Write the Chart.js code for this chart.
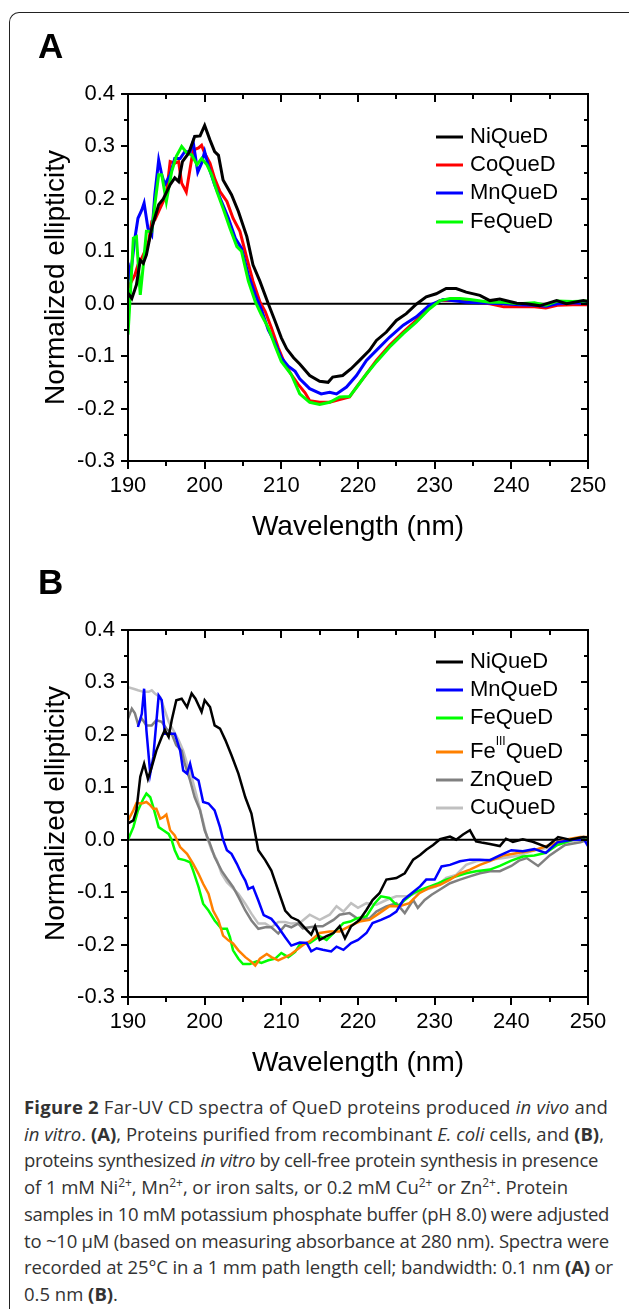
<!DOCTYPE html>
<html>
<head>
<meta charset="utf-8">
<script src="https://cdn.jsdelivr.net/npm/chart.js@4.4.1/dist/chart.umd.min.js"></script>
<style>
  body { margin: 0; background: #fff; width: 629px; height: 1309px; overflow: hidden; position: relative; }
  #frame { position: absolute; left: 9px; top: 12px; width: 700px; height: 1300px;
           border-top: 1.5px solid #222; border-left: 1.5px solid #222; border-top-left-radius: 10px; }
  canvas { position: absolute; left: 0; }
  #chartA { top: 0; }
  #chartB { top: 536px; }
  #caption { position: absolute; left: 24px; top: 1094px; font-family: "Open Sans", sans-serif;
             font-size: 18.5px; line-height: 26.7px; color: #333; white-space: nowrap; }
  #caption sup { font-size: 12px; line-height: 0; }
</style>
</head>
<body>
<div id="frame"></div>
<canvas id="chartA" width="629" height="550"></canvas>
<canvas id="chartB" width="629" height="550"></canvas>
<div id="caption">
<span class="ln"><b>Figure 2</b> Far-UV CD spectra of QueD proteins produced <i>in vivo</i> and</span><br>
<span class="ln"><i>in vitro</i>. <b>(A)</b>, Proteins purified from recombinant <i>E. coli</i> cells, and <b>(B)</b>,</span><br>
<span class="ln">proteins synthesized <i>in vitro</i> by cell-free protein synthesis in presence</span><br>
<span class="ln">of 1 mM Ni<sup>2+</sup>, Mn<sup>2+</sup>, or iron salts, or 0.2 mM Cu<sup>2+</sup> or Zn<sup>2+</sup>. Protein</span><br>
<span class="ln">samples in 10 mM potassium phosphate buffer (pH 8.0) were adjusted</span><br>
<span class="ln">to ~10 μM (based on measuring absorbance at 280 nm). Spectra were</span><br>
<span class="ln">recorded at 25°C in a 1 mm path length cell; bandwidth: 0.1 nm <b>(A)</b> or</span><br>
<span class="ln">0.5 nm <b>(B)</b>.</span>
</div>
<script>
// ---- Panel A: proteins purified from E. coli ----
const niA_x = [190, 190.5, 191.1, 191.6, 192, 192.4, 193.1, 194, 194.6, 195.5, 196.1, 196.6, 197.1, 197.9, 198.7, 199.4, 200, 200.7, 201.3, 201.8, 202.4, 203.5, 204.4, 205.5, 206.3, 207.2, 208.3, 209.2, 210, 210.7, 211.6, 212.4, 213.7, 215, 216.1, 216.7, 218, 219.1, 220.2, 221.5, 222.4, 223.7, 225, 226.3, 227.6, 228.9, 230.2, 231.5, 232.8, 234.1, 235.9, 237.2, 238.5, 240.7, 242, 243.7, 245.9, 247.2, 249.4, 250];
const niA_y = [0.02, 0.01, 0.036, 0.083, 0.077, 0.093, 0.144, 0.189, 0.2, 0.227, 0.24, 0.233, 0.271, 0.287, 0.319, 0.32, 0.34, 0.312, 0.29, 0.283, 0.236, 0.208, 0.176, 0.128, 0.074, 0.043, 0.0, -0.034, -0.065, -0.086, -0.103, -0.115, -0.137, -0.148, -0.15, -0.14, -0.137, -0.124, -0.108, -0.089, -0.07, -0.054, -0.032, -0.019, -0.001, 0.013, 0.019, 0.029, 0.029, 0.022, 0.016, 0.006, 0.009, 0.001, 0.0, -0.004, 0.006, 0.0, 0.006, 0.004];

const coA_x = [190, 190.9, 191.3, 191.8, 192.2, 192.7, 193.1, 193.5, 194, 194.6, 195, 195.5, 196.1, 196.6, 197, 197.6, 198.1, 198.5, 199.2, 199.6, 200, 200.7, 201.3, 202, 202.9, 203.7, 204.6, 205.5, 206.3, 207.2, 207.9, 208.7, 209.6, 210.5, 211.3, 212.2, 213.1, 213.7, 215, 216.3, 217.6, 218.9, 219.8, 221.1, 222.4, 224.1, 225.9, 227.6, 229.3, 230.7, 232, 233.3, 235.4, 237.2, 239, 241, 243, 244.5, 246, 248, 250];
const coA_y = [0.03, 0.055, 0.074, 0.087, 0.1, 0.119, 0.157, 0.16, 0.176, 0.195, 0.208, 0.271, 0.268, 0.271, 0.23, 0.213, 0.258, 0.293, 0.297, 0.302, 0.287, 0.268, 0.239, 0.214, 0.195, 0.163, 0.138, 0.087, 0.043, 0.004, -0.015, -0.046, -0.084, -0.116, -0.135, -0.154, -0.17, -0.185, -0.188, -0.188, -0.183, -0.178, -0.159, -0.134, -0.108, -0.08, -0.054, -0.032, -0.006, 0.006, 0.006, 0.006, 0.003, 0.0, -0.006, -0.006, -0.006, -0.008, -0.003, -0.002, -0.002];

const mnA_x = [190, 190.3, 190.9, 191.3, 191.8, 192.1, 192.6, 193.1, 193.5, 194, 194.4, 194.8, 195.5, 196.1, 196.8, 197.4, 198.1, 198.5, 199.1, 199.6, 200, 200.5, 201.3, 202.2, 203.1, 204, 204.8, 205.7, 206.6, 207.4, 208.3, 209.2, 210, 210.9, 211.8, 212.4, 213.7, 215.2, 216.3, 217.2, 218.5, 219.8, 221.1, 222.4, 224.1, 225.9, 227.6, 229.3, 231.1, 232.8, 234.1, 237.2, 239, 241, 243, 244.5, 246, 248, 250];
const mnA_y = [0.078, 0.05, 0.125, 0.163, 0.179, 0.192, 0.144, 0.131, 0.208, 0.274, 0.246, 0.227, 0.246, 0.277, 0.277, 0.29, 0.29, 0.309, 0.251, 0.268, 0.29, 0.262, 0.227, 0.195, 0.163, 0.125, 0.106, 0.055, 0.017, -0.011, -0.05, -0.075, -0.103, -0.119, -0.129, -0.143, -0.162, -0.172, -0.169, -0.172, -0.159, -0.137, -0.108, -0.089, -0.064, -0.041, -0.025, -0.003, 0.008, 0.005, 0.003, 0.001, 0.0, -0.002, -0.003, -0.005, 0.0, 0.002, 0.0];

const feA_x = [190, 190.3, 190.7, 191.1, 191.6, 192, 192.4, 193.1, 193.5, 194, 194.4, 195, 195.7, 196.3, 197, 197.7, 198.3, 199, 199.6, 200.3, 200.9, 201.6, 202.4, 203.3, 204.2, 204.8, 205.7, 206.6, 207.4, 208.3, 209.2, 210, 211.3, 212.4, 213.7, 215, 216.3, 217.6, 218.9, 220, 221.1, 222.4, 224.1, 225.9, 227.6, 229.3, 230.7, 232, 233.3, 234.6, 237.2, 239, 241, 243, 244.5, 246, 248, 250];
const feA_y = [-0.059, 0.017, 0.125, 0.128, 0.017, 0.074, 0.138, 0.138, 0.189, 0.246, 0.246, 0.195, 0.252, 0.281, 0.3, 0.287, 0.284, 0.265, 0.277, 0.265, 0.246, 0.214, 0.182, 0.144, 0.109, 0.1, 0.043, 0.004, -0.021, -0.046, -0.081, -0.11, -0.135, -0.172, -0.188, -0.192, -0.188, -0.178, -0.177, -0.156, -0.134, -0.111, -0.083, -0.057, -0.035, -0.01, 0.006, 0.01, 0.01, 0.008, 0.003, 0.003, 0.0, 0.002, -0.003, 0.005, 0.004, 0.005];

// ---- Panel B: proteins synthesized in vitro ----
const niB_x = [190, 190.7, 191.1, 191.6, 192.1, 192.6, 193.1, 193.7, 194.4, 194.8, 195.3, 195.7, 196.3, 197, 197.7, 198.3, 198.8, 199.6, 200, 200.7, 201.3, 202, 202.7, 203.5, 204.4, 205.3, 206.1, 206.6, 207, 207.9, 208.7, 209.6, 210.5, 211.3, 212.2, 213.3, 213.9, 214.4, 215, 215.9, 216.8, 217.6, 218.3, 219.1, 220.2, 221.1, 221.9, 222.8, 223.7, 225, 226.1, 227.2, 228.1, 228.9, 229.8, 230.7, 232, 232.8, 233.7, 234.6, 235.4, 236.3, 237.2, 238.5, 239.3, 240.2, 241.5, 242.8, 244.6, 246.1, 247.6, 249.4, 250];
const niB_y = [0.031, 0.037, 0.056, 0.12, 0.145, 0.116, 0.139, 0.17, 0.196, 0.209, 0.196, 0.228, 0.266, 0.269, 0.253, 0.279, 0.269, 0.244, 0.266, 0.253, 0.218, 0.212, 0.19, 0.161, 0.126, 0.081, 0.05, 0.011, -0.02, -0.039, -0.059, -0.097, -0.135, -0.148, -0.154, -0.172, -0.181, -0.165, -0.191, -0.184, -0.178, -0.165, -0.188, -0.165, -0.153, -0.134, -0.115, -0.102, -0.076, -0.073, -0.064, -0.038, -0.029, -0.019, -0.01, 0.001, 0.006, 0.0, 0.01, 0.018, -0.003, -0.006, -0.008, -0.012, 0.002, -0.004, 0.001, -0.004, -0.014, 0.005, 0.0, 0.005, 0.004];

const mnB_x = [191.3, 191.8, 192.1, 192.4, 192.9, 193.3, 194, 194.4, 194.8, 195.5, 196.1, 196.8, 197.2, 197.7, 198.1, 198.5, 199.2, 199.8, 200.5, 201.3, 202, 202.4, 202.9, 203.5, 204.2, 204.8, 205.3, 205.7, 206.3, 207, 207.7, 208.7, 209.6, 210.5, 211.3, 212.4, 213.3, 213.9, 214.6, 215.4, 216.5, 217.2, 218.1, 219.1, 220, 221.1, 221.9, 223, 224.1, 225, 225.9, 227, 228.1, 228.9, 230, 230.9, 232, 233.3, 234.6, 235.9, 237.2, 238.5, 240, 241.5, 243, 244.5, 246, 248, 249.5, 250];
const mnB_y = [0.215, 0.24, 0.288, 0.209, 0.126, 0.158, 0.275, 0.266, 0.202, 0.202, 0.202, 0.17, 0.132, 0.126, 0.145, 0.12, 0.113, 0.072, 0.069, 0.056, 0.024, 0.0, -0.02, -0.027, -0.046, -0.065, -0.078, -0.094, -0.09, -0.116, -0.144, -0.151, -0.167, -0.186, -0.202, -0.196, -0.197, -0.213, -0.207, -0.21, -0.213, -0.204, -0.21, -0.197, -0.191, -0.178, -0.159, -0.153, -0.146, -0.137, -0.115, -0.102, -0.089, -0.076, -0.076, -0.051, -0.048, -0.041, -0.038, -0.038, -0.039, -0.03, -0.02, -0.022, -0.018, -0.025, -0.005, 0.0, 0.0, -0.012];

const feB_x = [190, 190.7, 191.3, 192, 192.4, 192.9, 193.3, 194, 194.6, 195.3, 195.7, 196.1, 196.6, 197.4, 198.1, 198.5, 199.2, 199.8, 200.5, 201.3, 202.2, 202.9, 203.3, 203.7, 204.4, 205, 205.9, 206.8, 207.4, 208.3, 209.2, 210, 210.9, 211.8, 212.4, 213.7, 215, 215.9, 216.8, 218.1, 219, 219.8, 221.1, 222.2, 223, 224.1, 225.2, 226.1, 227.2, 228.3, 229.4, 230.5, 231.5, 232.8, 234.1, 235.4, 237.2, 238.5, 240, 241.5, 243, 244.5, 246, 248, 250];
const feB_y = [0.0, 0.024, 0.056, 0.078, 0.088, 0.081, 0.062, 0.024, 0.018, 0.011, -0.001, -0.02, -0.036, -0.039, -0.043, -0.059, -0.09, -0.122, -0.135, -0.154, -0.17, -0.17, -0.186, -0.211, -0.227, -0.237, -0.237, -0.232, -0.235, -0.23, -0.227, -0.216, -0.224, -0.214, -0.2, -0.197, -0.184, -0.191, -0.178, -0.159, -0.156, -0.15, -0.146, -0.121, -0.108, -0.111, -0.127, -0.115, -0.102, -0.095, -0.089, -0.083, -0.076, -0.07, -0.064, -0.06, -0.057, -0.05, -0.04, -0.032, -0.03, -0.025, -0.01, 0.0, 0.005];

const fe3B_x = [190, 190.7, 191.1, 191.8, 192.4, 192.9, 193.3, 193.7, 194.2, 194.6, 195, 195.5, 196.1, 196.8, 197.7, 198.5, 199.2, 199.8, 200.5, 201.1, 201.8, 202.4, 203.1, 203.7, 204.4, 205.3, 206.1, 206.6, 207.2, 208.1, 208.7, 209.6, 210.5, 211.3, 212.2, 213.1, 213.7, 215, 216.3, 217.6, 218.9, 220.2, 221.5, 222.8, 224.1, 225.4, 226.7, 228, 229.3, 230.7, 232, 233.3, 234.6, 235.9, 237.2, 239, 241, 243, 245, 247, 249, 250];
const fe3B_y = [0.037, 0.056, 0.07, 0.069, 0.072, 0.066, 0.059, 0.059, 0.04, 0.043, 0.048, 0.018, 0.008, -0.014, -0.027, -0.046, -0.065, -0.084, -0.103, -0.135, -0.154, -0.183, -0.192, -0.198, -0.211, -0.224, -0.233, -0.24, -0.227, -0.218, -0.224, -0.23, -0.224, -0.218, -0.208, -0.198, -0.194, -0.178, -0.175, -0.175, -0.165, -0.156, -0.153, -0.14, -0.127, -0.127, -0.121, -0.102, -0.092, -0.086, -0.076, -0.064, -0.057, -0.048, -0.041, -0.03, -0.025, -0.02, -0.01, 0.0, 0.005, 0.005];

const znB_x = [190, 190.5, 190.9, 191.3, 191.8, 192.4, 193.1, 193.7, 194.4, 195, 195.7, 196.3, 197, 197.4, 198.1, 198.7, 199.4, 200, 200.7, 201.3, 202.2, 203.1, 203.7, 204.4, 205.3, 206.1, 207, 207.9, 208.7, 209.6, 210.5, 211.3, 212.2, 212.8, 214.6, 215.4, 216.8, 217.6, 218.9, 220.2, 221.5, 222.4, 223.7, 225, 226.1, 227.2, 227.8, 228.7, 229.6, 230.7, 232, 233.3, 234.6, 235.9, 237.2, 238.5, 240, 241, 242, 243.5, 245, 247, 249, 250];
const znB_y = [0.231, 0.25, 0.241, 0.221, 0.231, 0.218, 0.218, 0.228, 0.225, 0.212, 0.202, 0.18, 0.17, 0.145, 0.113, 0.081, 0.056, 0.018, -0.008, -0.033, -0.059, -0.078, -0.09, -0.109, -0.135, -0.154, -0.17, -0.167, -0.167, -0.179, -0.163, -0.167, -0.16, -0.169, -0.165, -0.165, -0.153, -0.143, -0.14, -0.153, -0.15, -0.137, -0.127, -0.121, -0.14, -0.115, -0.13, -0.115, -0.105, -0.095, -0.083, -0.076, -0.07, -0.064, -0.06, -0.06, -0.05, -0.04, -0.035, -0.05, -0.03, -0.01, -0.005, 0.0];

const cuB_x = [190, 190.7, 191.3, 192, 192.7, 193.1, 193.5, 194.2, 194.8, 195.3, 195.9, 196.6, 197.2, 197.7, 198.3, 199, 199.6, 200.3, 200.9, 201.6, 202.2, 202.9, 203.5, 204.4, 205.3, 206.1, 207, 207.9, 208.7, 209.6, 210.5, 211.3, 212.4, 213.7, 215, 216.3, 217.2, 218.1, 219.1, 220, 221.1, 222.4, 223.7, 225, 226.3, 227.6, 228.9, 230.2, 231.5, 232.8, 234.1, 235.4, 237.2, 239, 241, 243, 245, 247, 249, 250];
const cuB_y = [0.291, 0.288, 0.285, 0.282, 0.282, 0.285, 0.279, 0.272, 0.247, 0.225, 0.209, 0.19, 0.17, 0.145, 0.12, 0.081, 0.046, 0.005, -0.02, -0.039, -0.065, -0.081, -0.09, -0.103, -0.122, -0.141, -0.16, -0.16, -0.167, -0.157, -0.157, -0.16, -0.159, -0.143, -0.153, -0.143, -0.127, -0.137, -0.121, -0.13, -0.121, -0.124, -0.115, -0.108, -0.108, -0.102, -0.095, -0.089, -0.073, -0.067, -0.048, -0.041, -0.038, -0.035, -0.03, -0.02, -0.015, -0.005, 0.0, 0.0];

// axis tick values
const xTicks = [190, 200, 210, 220, 230, 240, 250];
const yTicks = [-0.3, -0.2, -0.1, 0.0, 0.1, 0.2, 0.3, 0.4];

const FONT = '"Liberation Sans", Arial, sans-serif';
Chart.defaults.font.family = FONT;
Chart.defaults.color = '#000';

function pts(xs, ys) {
    return xs.map((x, i) => ({ x: x, y: ys[i] }));
}

function series(label, xs, ys, color, width, order) {
    return {
        label: label,
        data: pts(xs, ys),
        borderColor: color,
        borderWidth: width,
        pointRadius: 0,
        tension: 0,
        fill: false,
        order: order
    };
}

// frame, zero line and the in/out tick marks of the Origin-style plot
const frameTicks = {
    id: 'frameTicks',
    beforeDatasetsDraw(chart) {
        const { ctx, chartArea: a, scales: { y } } = chart;
        const y0 = y.getPixelForValue(0);
        ctx.save();
        ctx.strokeStyle = '#000';
        ctx.lineWidth = 2;
        ctx.beginPath();
        ctx.moveTo(a.left, y0);
        ctx.lineTo(a.right, y0);
        ctx.stroke();
        ctx.restore();
    },
    afterDatasetsDraw(chart) {
        const { ctx, chartArea: a, scales: { x, y } } = chart;
        ctx.save();
        ctx.strokeStyle = '#000';
        ctx.lineWidth = 2;
        ctx.strokeRect(a.left, a.top, a.right - a.left, a.bottom - a.top);
        ctx.beginPath();
        for (let k = 0; k <= 12; k++) {
            const v = 190 + k * 5;
            const px = Math.round(x.getPixelForValue(v));
            const len = k % 2 === 0 ? 8 : 5;
            ctx.moveTo(px, a.bottom);
            ctx.lineTo(px, a.bottom + len);
            ctx.moveTo(px, a.top);
            ctx.lineTo(px, a.top + len);
        }
        for (let k = -6; k <= 8; k++) {
            const py = Math.round(y.getPixelForValue(k * 0.05));
            const len = k % 2 === 0 ? 7 : 4;
            ctx.moveTo(a.left - len, py);
            ctx.lineTo(a.left, py);
            ctx.moveTo(a.right - len, py);
            ctx.lineTo(a.right, py);
        }
        ctx.stroke();
        ctx.restore();
    },
    afterDraw(chart, args, opts) {
        const ctx = chart.ctx;
        ctx.save();
        // panel letter
        ctx.fillStyle = '#000';
        ctx.font = 'bold 35px ' + FONT;
        ctx.textBaseline = 'alphabetic';
        ctx.fillText(opts.panel, opts.panelX, opts.panelY);
        // legend
        chart.data.datasets.forEach((ds, i) => {
            const yy = opts.rows[i];
            ctx.strokeStyle = ds.borderColor;
            ctx.lineWidth = 3;
            ctx.beginPath();
            ctx.moveTo(opts.lineX, yy);
            ctx.lineTo(opts.lineX + 27, yy);
            ctx.stroke();
            const parts = ds.label.split('^');
            let tx = opts.textX;
            ctx.textBaseline = 'middle';
            parts.forEach((p, j) => {
                if (j % 2 === 1) {
                    ctx.font = '12px ' + FONT;
                    ctx.fillText(p, tx, yy - 10);
                } else {
                    ctx.font = '22px ' + FONT;
                    ctx.fillText(p, tx, yy);
                }
                tx += ctx.measureText(p).width;
            });
        });
        ctx.restore();
    }
};

function makeChart(id, datasets, panel, rows) {
    return new Chart(document.getElementById(id), {
        type: 'line',
        data: { datasets: datasets },
        options: {
            responsive: false,
            animation: false,
            layout: { padding: { top: 94, right: 41, left: 0, bottom: 0 } },
            plugins: {
                legend: { display: false },
                tooltip: { enabled: false },
                frameTicks: { panel: panel, panelX: 38, panelY: 58, rows: rows, lineX: 436, textX: 470 }
            },
            scales: {
                x: {
                    type: 'linear',
                    min: 190,
                    max: 250,
                    afterFit(s) { s.height = 89; },
                    afterBuildTicks(s) { s.ticks = xTicks.map(v => ({ value: v })); },
                    grid: { display: false, drawTicks: false },
                    border: { display: false },
                    ticks: { padding: 12, font: { size: 22 }, color: '#000', autoSkip: false, maxRotation: 0 },
                    title: { display: true, text: 'Wavelength (nm)', font: { size: 28 }, color: '#000', padding: { top: 0, bottom: 6 } }
                },
                y: {
                    min: -0.3,
                    max: 0.4,
                    afterFit(s) { s.width = 128; },
                    afterBuildTicks(s) { s.ticks = yTicks.map(v => ({ value: v })); },
                    grid: { display: false, drawTicks: false },
                    border: { display: false },
                    ticks: { padding: 13, font: { size: 22 }, color: '#000', callback: v => v.toFixed(1) },
                    title: { display: true, text: 'Normalized ellipticity', font: { size: 28 }, color: '#000', padding: { top: 39, bottom: 0 } }
                }
            }
        },
        plugins: [frameTicks]
    });
}

makeChart('chartA', [
    series('NiQueD', niA_x, niA_y, '#000000', 3, 1),
    series('CoQueD', coA_x, coA_y, '#ff0000', 3, 4),
    series('MnQueD', mnA_x, mnA_y, '#0000ff', 3, 3),
    series('FeQueD', feA_x, feA_y, '#00ff00', 3, 2)
], 'A', [137, 165, 193, 222]);

makeChart('chartB', [
    series('NiQueD', niB_x, niB_y, '#000000', 2.5, 1),
    series('MnQueD', mnB_x, mnB_y, '#0000ff', 2.5, 2),
    series('FeQueD', feB_x, feB_y, '#00ff00', 2.5, 4),
    series('Fe^III^QueD', fe3B_x, fe3B_y, '#ff8000', 2.5, 3),
    series('ZnQueD', znB_x, znB_y, '#808080', 2.5, 5),
    series('CuQueD', cuB_x, cuB_y, '#c0c0c0', 2.5, 6)
], 'B', [126, 154, 182, 216, 244, 272]);

// squeeze each caption line to the width it has in the printed figure
const captionWidths = [584, 580, 574, 544, 585, 585, 589];
function fitCaption() {
    document.querySelectorAll('#caption .ln').forEach((el, i) => {
        if (i >= captionWidths.length) return;
        el.style.letterSpacing = '0px';
        const w = el.getBoundingClientRect().width;
        const n = el.textContent.length;
        el.style.letterSpacing = ((captionWidths[i] - w) / n).toFixed(3) + 'px';
    });
}
fitCaption();
document.fonts.ready.then(fitCaption);
</script>
</body>
</html>
